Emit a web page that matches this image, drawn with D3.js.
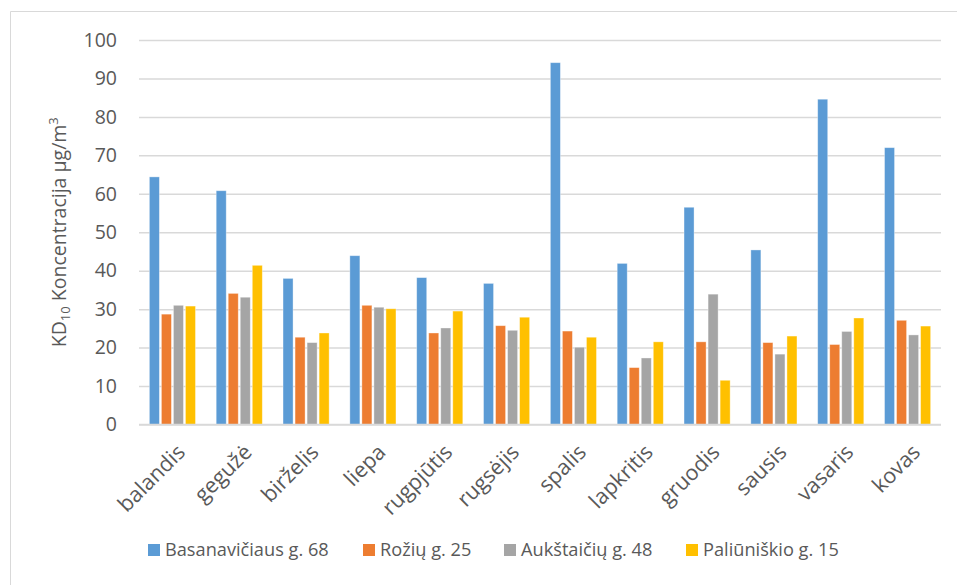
<!DOCTYPE html>
<html>
<head>
<meta charset="utf-8">
<script src="https://cdn.jsdelivr.net/npm/d3@7"></script>
<style>
  html, body { margin: 0; padding: 0; background: #fff; }
  svg { display: block; font-family: "Open Sans", "Noto Sans", sans-serif; }
</style>
</head>
<body>
<svg id="chart" width="957" height="585"></svg>
<script>
// Monthly KD10 concentrations at four monitoring sites
const months = ["balandis", "gegužė", "birželis", "liepa", "rugpjūtis", "rugsėjis",
                "spalis", "lapkritis", "gruodis", "sausis", "vasaris", "kovas"];
const seriesNames = ["Basanavičiaus g. 68", "Rožių g. 25", "Aukštaičių g. 48", "Paliūniškio g. 15"];
const basanaviciaus = [64.4, 60.8, 38.0, 43.9, 38.2, 36.7, 94.1, 41.9, 56.5, 45.4, 84.6, 72.0];
const roziu         = [28.7, 34.1, 22.7, 31.0, 23.8, 25.7, 24.3, 14.8, 21.5, 21.3, 20.8, 27.1];
const aukstaiciu    = [31.0, 33.1, 21.3, 30.5, 25.1, 24.5, 20.1, 17.3, 33.9, 18.3, 24.2, 23.3];
const paliuniskio   = [30.8, 41.4, 23.8, 30.1, 29.5, 27.9, 22.7, 21.5, 11.5, 23.0, 27.7, 25.6];
const yTicks = [0, 10, 20, 30, 40, 50, 60, 70, 80, 90, 100];
const colors = ["#5B9BD5", "#ED7D31", "#A5A5A5", "#FFC000"];

const seriesValues = [basanaviciaus, roziu, aukstaiciu, paliuniskio];

const svg = d3.select("#chart");
const plot = { left: 139, right: 941, top: 40, bottom: 424.5 };
const textColor = "#595959";

// outer frame (top and left edges visible)
svg.append("line").attr("x1", 10.5).attr("x2", 957).attr("y1", 11.5).attr("y2", 11.5)
  .attr("stroke", "#d9d9d9").attr("stroke-width", 1);
svg.append("line").attr("x1", 10.5).attr("x2", 10.5).attr("y1", 11.5).attr("y2", 585)
  .attr("stroke", "#d9d9d9").attr("stroke-width", 1);

const y = d3.scaleLinear().domain([0, 100]).range([plot.bottom, plot.top]);
const x0 = d3.scaleBand().domain(months).range([plot.left, plot.right])
  .paddingInner(0.31).paddingOuter(0.155);
const x1 = d3.scaleBand().domain(d3.range(seriesNames.length)).range([0, x0.bandwidth()])
  .paddingInner(0.167).paddingOuter(0);

// horizontal gridlines
const yAxis = d3.axisLeft(y).tickValues(yTicks).tickSize(-(plot.right - plot.left)).tickPadding(22);
const gy = svg.append("g").attr("transform", `translate(${plot.left},0)`).call(yAxis);
gy.select(".domain").remove();
gy.selectAll(".tick line").attr("stroke", "#d9d9d9").attr("stroke-width", 1.5);
gy.selectAll(".tick text").attr("fill", textColor).attr("font-size", 19.5)
  .attr("font-family", "'Open Sans', sans-serif");

// bars
const groups = svg.append("g").selectAll("g").data(months).join("g")
  .attr("transform", d => `translate(${x0(d)},0)`);
groups.selectAll("rect")
  .data((m, i) => seriesValues.map((vals, s) => ({ s, v: vals[i] })))
  .join("rect")
  .attr("x", d => x1(d.s))
  .attr("width", x1.bandwidth())
  .attr("y", d => y(d.v))
  .attr("height", d => y(0) - y(d.v))
  .attr("fill", d => colors[d.s])
  .attr("stroke", "#ffffff").attr("stroke-opacity", 0.45).attr("stroke-width", 0.8);

// category axis baseline
svg.append("line").attr("x1", plot.left).attr("x2", plot.right)
  .attr("y1", y(0)).attr("y2", y(0)).attr("stroke", "#d9d9d9").attr("stroke-width", 1.5);

// rotated month labels
const xAxis = d3.axisBottom(x0).tickSize(0).tickPadding(0);
const gx = svg.append("g").attr("transform", `translate(0,${plot.bottom})`).call(xAxis);
gx.select(".domain").remove();
gx.selectAll(".tick text")
  .attr("fill", textColor).attr("font-size", 21.5)
  .attr("font-family", "'Open Sans', sans-serif")
  .attr("text-anchor", "end")
  .attr("dy", null).attr("y", 0)
  .attr("transform", "translate(14,29) rotate(-45)");

// y-axis title with subscript and superscript
const title = svg.append("text")
  .attr("transform", `translate(66,${(plot.top + plot.bottom) / 2}) rotate(-90)`)
  .attr("text-anchor", "middle").attr("fill", textColor).attr("font-size", 19.5);
title.append("tspan").text("KD");
title.append("tspan").attr("font-size", 13).attr("dy", 4).text("10");
title.append("tspan").attr("dy", -4).text(" Koncentracija µg/m");
title.append("tspan").attr("font-size", 13).attr("dy", -8).text("3");

// legend
const legendX = [148, 363, 504, 686];
const legend = svg.append("g").selectAll("g").data(seriesNames).join("g")
  .attr("transform", (d, i) => `translate(${legendX[i]},550)`);
legend.append("rect").attr("x", 0).attr("y", -6).attr("width", 12).attr("height", 12)
  .attr("fill", (d, i) => colors[i]);
legend.append("text").attr("x", 17).attr("y", 0).attr("dy", "0.35em")
  .attr("fill", textColor).attr("font-size", 18.2).text(d => d);
</script>
</body>
</html>
